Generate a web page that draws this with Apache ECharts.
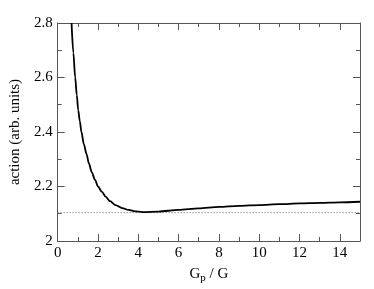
<!DOCTYPE html>
<html><head><meta charset="utf-8">
<script src="https://cdn.jsdelivr.net/npm/echarts@6/dist/echarts.min.js"></script>
<style>html,body{margin:0;padding:0;background:#fff}#c{width:374px;height:289px}</style>
</head><body><div id="c"></div>
<script>
const xValues = [0.69, 0.78, 0.87, 0.95, 1.02, 1.1, 1.18, 1.3, 1.43, 1.55, 1.69, 1.85, 2.0, 2.2, 2.38, 2.6, 2.87, 3.2, 3.52, 3.85, 4.2, 5, 6, 7, 8, 9, 10, 11, 12, 13, 14, 15];
const actionValues = [2.80, 2.69, 2.60, 2.535, 2.48, 2.44, 2.40, 2.355, 2.32, 2.285, 2.253, 2.225, 2.20, 2.18, 2.163, 2.146, 2.132, 2.121, 2.114, 2.109, 2.106, 2.108, 2.114, 2.12, 2.125, 2.129, 2.132, 2.135, 2.138, 2.140, 2.142, 2.144];
const refLevel = 2.104;
const xTicks = [0, 2, 4, 6, 8, 10, 12, 14];
const yTicks = [2, 2.2, 2.4, 2.6, 2.8];

const font = "Liberation Serif";
const axisCol = '#555';
const labRich = {a:{fontFamily:font, fontSize:15, color:'#000'}};
const chart = echarts.init(document.getElementById('c'));
const baseX = {type:'value', min:0, max:15, interval:2,
  axisLine:{show:true, onZero:false, lineStyle:{color:axisCol, width:1}},
  axisTick:{show:true, inside:true, length:7, lineStyle:{color:axisCol}},
  minorTick:{show:true, splitNumber:2, length:4, lineStyle:{color:axisCol}},
  splitLine:{show:false}};
const baseY = {type:'value', min:2, max:2.8, interval:0.2,
  axisLine:{show:true, onZero:false, lineStyle:{color:axisCol, width:1}},
  axisTick:{show:true, inside:true, length:7, lineStyle:{color:axisCol}},
  minorTick:{show:true, splitNumber:2, length:4, lineStyle:{color:axisCol}},
  splitLine:{show:false}};
chart.setOption({
  animation:false,
  textStyle:{fontFamily:font},
  grid:{left:55, right:14, top:23, bottom:48},
  xAxis:[
    Object.assign({}, baseX, {position:'bottom',
      axisLabel:{fontFamily:font, fontSize:15, color:'#000', margin:5, rich:labRich,
        formatter:v => xTicks.includes(v) ? '{a|' + v + '}' : ''},
      name:'{g|G}{s|p}{g| / G}', nameLocation:'middle', nameGap:24,
      nameTextStyle:{rich:{g:{fontFamily:font, fontSize:15, color:'#000'},
        s:{fontFamily:font, fontSize:11, color:'#000', verticalAlign:'bottom', padding:[8,0,0,0]}}}}),
    Object.assign({}, baseX, {position:'top', axisLabel:{show:false}})
  ],
  yAxis:[
    Object.assign({}, baseY, {position:'left',
      axisLabel:{fontFamily:font, fontSize:15, color:'#000', margin:5, rich:labRich,
        formatter:v => { const t = yTicks.find(k => Math.abs(k - v) < 1e-9); return t === undefined ? '' : '{a|' + (t === 2 ? '2' : t.toFixed(1)) + '}'; }},
      name:'action (arb. units)', nameLocation:'middle', nameGap:31,
      nameTextStyle:{fontFamily:font, fontSize:15, color:'#000'}}),
    Object.assign({}, baseY, {position:'right', axisLabel:{show:false}})
  ],
  series:[
    {type:'line', data:[[0, refLevel], [15, refLevel]], symbol:'none',
      lineStyle:{color:'#666', width:1, type:[1,2]}},
    {type:'line', data:xValues.map((x,i)=>[x, actionValues[i]]), symbol:'none', smooth:0.3, smoothMonotone:'x',
      lineStyle:{color:'#000', width:1.8}, clip:true}
  ]
});
</script></body></html>
